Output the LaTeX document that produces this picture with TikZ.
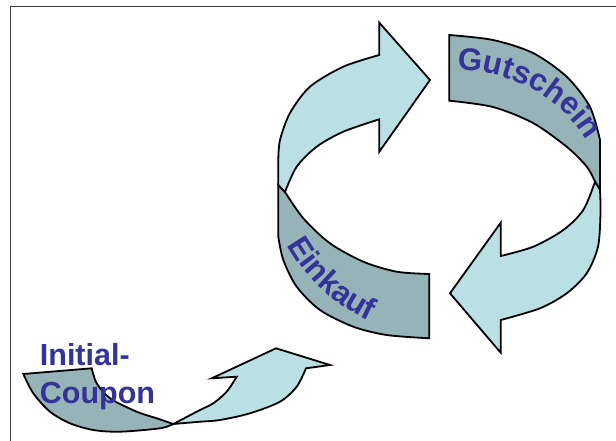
\documentclass[tikz,border=0pt]{standalone}
\usepackage{fontspec}
\setmainfont{Liberation Sans}
\usetikzlibrary{decorations.text}

\definecolor{arrowlight}{RGB}{187,224,227}
\definecolor{banddark}{RGB}{150,180,184}
\definecolor{labelblue}{RGB}{51,51,153}
\definecolor{framegray}{RGB}{60,60,60}

\newcommand\labelfont{\fontsize{30.5}{38.3}\selectfont\bfseries}
\newcommand\ringfont{\fontsize{31.5}{38}\selectfont\bfseries}

\begin{document}
\begin{tikzpicture}[x=1pt,y=-1pt,
  outline/.style={draw=black,line width=1.8pt,line join=miter},
  lightpart/.style={outline,fill=arrowlight},
  darkpart/.style={outline,fill=banddark},
  framestyle/.style={draw=framegray,line width=1.5pt},
  bandtext/.style={decorate,decoration={text along path,text color=labelblue,
      text align={left indent=0pt}}}]
\useasboundingbox (0,0) rectangle (616,441);

% outer frame (top and left edges)
\draw[framestyle] (10.5,441) -- (10.5,6.5) -- (616,6.5);

% back band, upper right ("Gutschein")
\path[darkpart] plot[smooth] coordinates {(449.3,35) (493,40) (533,53) (567,77) (590,107) (600,140)}
  -- (600,190) -- (595,181.7)
  -- plot[smooth] coordinates {(595,181.7) (587,167) (567,147) (533,123) (493,107) (449.3,100.7)}
  -- cycle;

% front band, lower left ("Einkauf")
\path[darkpart] plot[smooth] coordinates {(285,192) (303.3,218.3) (330,243.3) (363.3,261.7) (396.7,271.7) (429.3,274)}
  -- (429.3,338.3)
  -- plot[smooth] coordinates {(429.3,338.3) (386.7,335) (353.3,326.7) (320,310) (296.7,286.7) (283.3,260) (278.3,236.7)}
  -- (278.3,185) -- cycle;

% upper left arrow
\path[lightpart] (430,80) -- (379.3,22.7) -- (379.3,55)
  -- plot[smooth] coordinates {(379.3,55) (343.3,66.7) (310,86.7) (290,113) (280,140) (278.3,160)}
  -- (278.3,185) -- (285,192)
  -- plot[smooth] coordinates {(285,192) (296.7,166.7) (316.7,146.7) (343.3,131.7) (379.3,119.3)}
  -- (379.3,151.7) -- cycle;

% lower right arrow
\path[lightpart] (450,293.3) -- (500.7,222.7) -- (500.7,256)
  -- plot[smooth] coordinates {(500.7,256) (533.3,246.7) (563.3,230) (583.3,210) (595,181.7)}
  -- (600,190)
  -- plot[smooth] coordinates {(600,190) (600.5,213) (598,246.7) (586.7,273.3) (566.7,293.3) (540,308.3) (500.7,320)}
  -- (500.7,352.7) -- cycle;

% starting band, bottom left
\path[darkpart] (23.3,374) -- (91.7,368.3)
  -- plot[smooth] coordinates {(91.7,368.3) (96.7,383.3) (110,398.3) (136.7,411.7) (156.7,418.3) (173.3,424)}
  -- plot[smooth] coordinates {(173.3,424) (160,428.3) (120,431.7) (93.3,430) (70,423.3) (50,411.7) (33.3,393.3) (23.3,374)}
  -- cycle;

% starting arrow
\path[lightpart] (173.3,424)
  -- plot[smooth] coordinates {(173.3,424) (200,410) (213.3,403.3) (226.7,391.7) (236.7,376.7)}
  -- (211.7,378.3) -- (276,348.3) -- (330,365) -- (306,368.3)
  -- plot[smooth] coordinates {(306,368.3) (296.7,386.7) (280,401.7) (250,413.3) (220,420) (200,421.7) (173.3,424)}
  -- cycle;

% labels
\path[bandtext,decoration={text={|\ringfont|Gutschein}}]
  (457,70) .. controls (512,71) and (566,98) .. (592,150);
\path[bandtext,decoration={text={|\ringfont|Einkauf}}]
  (287,245) .. controls (310,285) and (345,318) .. (405,333);
\node[anchor=north west,inner sep=0pt,align=left,font=\labelfont,text=labelblue]
  (initial) at (39.7,343.2) {Initial-\\Coupon};
\end{tikzpicture}
\end{document}
